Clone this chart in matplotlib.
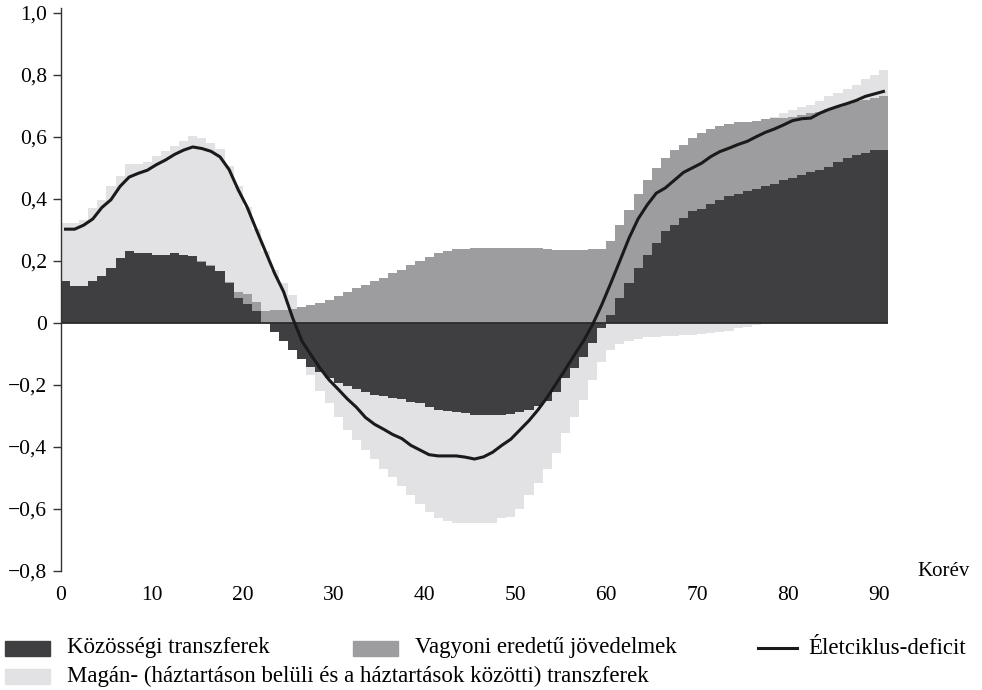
import matplotlib
matplotlib.use('Agg')
import matplotlib.pyplot as plt
import numpy as np
from matplotlib.patches import Rectangle
from matplotlib.lines import Line2D

ages = list(range(0, 91))

public = [0.135, 0.119, 0.119, 0.135, 0.152, 0.176, 0.21, 0.231, 0.225, 0.225,
          0.218, 0.218, 0.225, 0.219, 0.217, 0.195, 0.184, 0.166, 0.128, 0.08,
          0.06, 0.037, 0.0, -0.028, -0.06, -0.089, -0.117, -0.141, -0.157, -0.178,
          -0.195, -0.205, -0.213, -0.222, -0.232, -0.235, -0.241, -0.247, -0.254, -0.26,
          -0.27, -0.281, -0.284, -0.289, -0.29, -0.297, -0.297, -0.297, -0.297, -0.295,
          -0.289, -0.281, -0.268, -0.252, -0.222, -0.178, -0.145, -0.109, -0.066, -0.017,
          0.026, 0.08, 0.128, 0.176, 0.219, 0.259, 0.295, 0.316, 0.338, 0.359,
          0.367, 0.384, 0.397, 0.408, 0.416, 0.424, 0.431, 0.44, 0.448, 0.459,
          0.466, 0.477, 0.485, 0.493, 0.504, 0.517, 0.531, 0.542, 0.549, 0.556,
          0.558]

asset = [0.0, 0.0, 0.0, 0.0, 0.0, 0.0, 0.0, 0.0, 0.0, 0.0,
         0.0, 0.0, 0.0, 0.0, 0.0, 0.005, 0.003, 0.0, 0.005, 0.019,
         0.034, 0.031, 0.037, 0.042, 0.042, 0.045, 0.052, 0.056, 0.064, 0.075,
         0.085, 0.098, 0.113, 0.123, 0.134, 0.144, 0.16, 0.171, 0.185, 0.2,
         0.212, 0.225, 0.233, 0.239, 0.239, 0.24, 0.24, 0.24, 0.24, 0.24,
         0.24, 0.24, 0.24, 0.239, 0.235, 0.235, 0.235, 0.235, 0.239, 0.239,
         0.239, 0.236, 0.237, 0.24, 0.242, 0.24, 0.236, 0.242, 0.236, 0.237,
         0.245, 0.241, 0.239, 0.234, 0.23, 0.225, 0.221, 0.216, 0.211, 0.202,
         0.199, 0.193, 0.19, 0.188, 0.185, 0.18, 0.174, 0.172, 0.17, 0.169,
         0.172]

private = [0.187, 0.203, 0.213, 0.235, 0.245, 0.264, 0.262, 0.281, 0.287, 0.295,
           0.319, 0.337, 0.346, 0.368, 0.386, 0.396, 0.393, 0.395, 0.373, 0.341,
           0.279, 0.235, 0.196, 0.129, 0.086, 0.045, 0.0, -0.027, -0.062, -0.081,
           -0.107, -0.14, -0.164, -0.188, -0.208, -0.236, -0.255, -0.278, -0.301, -0.325,
           -0.34, -0.349, -0.356, -0.356, -0.355, -0.348, -0.348, -0.348, -0.333, -0.33,
           -0.311, -0.274, -0.248, -0.218, -0.198, -0.178, -0.157, -0.139, -0.118, -0.108,
           -0.087, -0.068, -0.06, -0.052, -0.045, -0.045, -0.043, -0.042, -0.04, -0.038,
           -0.035, -0.033, -0.03, -0.025, -0.018, -0.013, -0.008, -0.004, 0.006, 0.015,
           0.022, 0.026, 0.028, 0.033, 0.041, 0.043, 0.049, 0.054, 0.067, 0.075,
           0.086]

lcd = [0.302, 0.302, 0.315, 0.335, 0.372, 0.397, 0.44, 0.47, 0.482, 0.492,
       0.51, 0.525, 0.543, 0.557, 0.567, 0.562, 0.553, 0.535, 0.494, 0.429,
       0.372, 0.3, 0.23, 0.16, 0.10, 0.015, -0.058, -0.103, -0.146, -0.184,
       -0.214, -0.245, -0.272, -0.305, -0.327, -0.343, -0.36, -0.373, -0.395, -0.41,
       -0.425, -0.429, -0.429, -0.429, -0.433, -0.439, -0.432, -0.417, -0.395, -0.375,
       -0.345, -0.315, -0.28, -0.24, -0.195, -0.15, -0.103, -0.058, -0.005, 0.058,
       0.128, 0.2, 0.273, 0.335, 0.38, 0.418, 0.435, 0.46, 0.485, 0.5,
       0.515, 0.536, 0.552, 0.563, 0.575, 0.585, 0.6, 0.614, 0.625, 0.638,
       0.652, 0.658, 0.66, 0.676, 0.688, 0.698, 0.707, 0.717, 0.73, 0.738,
       0.746]

yticks = [-0.8, -0.6, -0.4, -0.2, 0.0, 0.2, 0.4, 0.6, 0.8, 1.0]
xticks = [0, 10, 20, 30, 40, 50, 60, 70, 80, 90]

labels = ["Közösségi transzferek", "Vagyoni eredetű jövedelmek",
          "Életciklus-deficit",
          "Magán- (háztartáson belüli és a háztartások közötti) transzferek"]

C_DARK = '#3f3f41'
C_MID = '#9d9d9f'
C_LIGHT = '#e2e2e4'
C_LINE = '#1a1a1a'

plt.rcParams['font.family'] = ['Liberation Serif', 'DejaVu Serif']

fig = plt.figure(figsize=(9.82, 6.90), dpi=100)
ax = fig.add_axes([61/982, 119/690, 827/982, 563/690])

x = np.array(ages, dtype=float)
comps = [(np.array(public), C_DARK), (np.array(asset), C_MID), (np.array(private), C_LIGHT)]
pos_base = np.zeros(len(x))
neg_base = np.zeros(len(x))
for vals, col in comps:
    pos = np.where(vals > 0, vals, 0.0)
    neg = np.where(vals < 0, vals, 0.0)
    ax.bar(x, pos, width=1.0, bottom=pos_base, align='edge', color=col,
           linewidth=0, antialiased=False, zorder=2)
    ax.bar(x, neg, width=1.0, bottom=neg_base, align='edge', color=col,
           linewidth=0, antialiased=False, zorder=2)
    pos_base = pos_base + pos
    neg_base = neg_base + neg

ax.axhline(0, color='#2b2b2b', lw=1.3, zorder=3)
ax.plot(x + 0.5, lcd, color=C_LINE, lw=2.2, zorder=4, solid_joinstyle='round')

ax.set_xlim(0, 91)
ax.set_ylim(-0.8, 1.015)

for s in ['top', 'right', 'bottom']:
    ax.spines[s].set_visible(False)
ax.spines['left'].set_color('#333333')
ax.spines['left'].set_linewidth(1.0)

ax.set_yticks(yticks)
ax.set_yticklabels([('%.1f' % v).replace('.', ',').replace('-', '\u2212') if v != 0 else '0'
                    for v in yticks], fontsize=15.5)
ax.set_xticks(xticks)
ax.set_xticklabels([str(v) for v in xticks], fontsize=15.5)
ax.tick_params(axis='y', direction='out', length=6, width=1, color='#333333', pad=4)
ax.tick_params(axis='x', length=0, pad=11)

ax.text(1.035, 0.0, 'Korév', transform=ax.transAxes, ha='left', va='center', fontsize=15)

# legend drawn in figure coordinates
def fy(p):
    return 1 - p / 690

def fx(p):
    return p / 982

ph = 15
LFS = 16.5
fig.patches.append(Rectangle((fx(5), fy(648 + ph/2)), fx(45), ph/690, color=C_DARK,
                             transform=fig.transFigure, figure=fig))
fig.text(fx(67), fy(648), labels[0], ha='left', va='center', fontsize=LFS)
fig.patches.append(Rectangle((fx(353), fy(648 + ph/2)), fx(45), ph/690, color=C_MID,
                             transform=fig.transFigure, figure=fig))
fig.text(fx(415), fy(648), labels[1], ha='left', va='center', fontsize=LFS)
fig.lines.append(Line2D([fx(758), fx(797)], [fy(648), fy(648)], color=C_LINE, lw=2.2,
                        transform=fig.transFigure, figure=fig))
fig.text(fx(808), fy(648), labels[2], ha='left', va='center', fontsize=LFS)
fig.patches.append(Rectangle((fx(5), fy(676 + ph/2)), fx(45), ph/690, color=C_LIGHT,
                             transform=fig.transFigure, figure=fig))
fig.text(fx(67), fy(676), labels[3], ha='left', va='center', fontsize=LFS)

fig.savefig('out.png', dpi=100)
